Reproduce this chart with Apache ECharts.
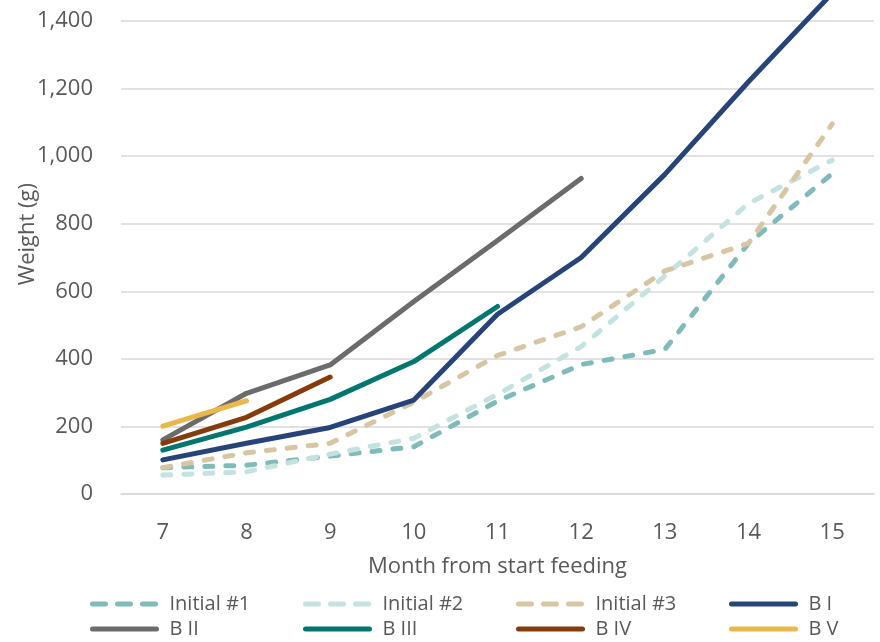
<!DOCTYPE html>
<html>
<head>
<meta charset="utf-8">
<script src="https://cdn.jsdelivr.net/npm/echarts@6/dist/echarts.min.js"></script>
<style>
  html, body { margin: 0; padding: 0; background: #fff; }
  #chart { width: 880px; height: 642px; }
</style>
</head>
<body>
<div id="chart"></div>
<script>
const months = ['7', '8', '9', '10', '11', '12', '13', '14', '15'];
const initial1 = [78, 85, 112, 140, 275, 383, 428, 742, 948];
const initial2 = [56, 66, 118, 165, 295, 436, 645, 860, 988];
const initial3 = [78, 122, 150, 272, 410, 495, 660, 742, 1095];
const bI = [101, 150, 197, 278, 532, 700, 946, 1220, 1482];
const bII = [160, 298, 382, 570, 750, 934];
const bIII = [130, 198, 280, 392, 555];
const bIV = [150, 227, 346];
const bV = [201, 276];
const yTicks = [0, 200, 400, 600, 800, 1000, 1200, 1400];

const seriesDefs = [
  { name: 'Initial #1', data: initial1, color: '#80bab9', dashed: true },
  { name: 'Initial #2', data: initial2, color: '#c4e2e0', dashed: true },
  { name: 'Initial #3', data: initial3, color: '#d7c6a3', dashed: true },
  { name: 'B I', data: bI, color: '#264478', dashed: false },
  { name: 'B II', data: bII, color: '#6b6b6b', dashed: false },
  { name: 'B III', data: bIII, color: '#00766f', dashed: false },
  { name: 'B IV', data: bIV, color: '#843c0c', dashed: false },
  { name: 'B V', data: bV, color: '#e9b84a', dashed: false }
];

const FONT = 'Open Sans';
const legendCols = [90, 303, 516, 729];
const legendRows = [594, 619];

const legends = seriesDefs.map((s, i) => ({
  data: [s.name],
  left: legendCols[i % 4],
  top: legendRows[Math.floor(i / 4)],
  padding: 0,
  itemWidth: 64,
  itemHeight: 20,
  itemStyle: { opacity: 0 },
  lineStyle: {
    width: 5,
    type: s.dashed ? [13, 12] : 'solid',
    cap: 'round'
  },
  textStyle: { fontFamily: FONT, fontSize: 20, color: '#595959', padding: [0, 0, 0, 8] }
}));

const chart = echarts.init(document.getElementById('chart'), null, { renderer: 'canvas' });
chart.setOption({
  animation: false,
  backgroundColor: '#fff',
  grid: { left: 121, right: 6, top: 0, bottom: 148, containLabel: false },
  legend: legends,
  graphic: [{
    type: 'text',
    left: 17,
    top: 183,
    rotation: Math.PI / 2,
    style: { text: 'Weight (g)', font: '22px "Open Sans"', fill: '#595959' }
  }],
  xAxis: {
    type: 'category',
    data: months,
    boundaryGap: true,
    axisLine: { show: true, lineStyle: { color: '#d9d9d9', width: 1.5 } },
    axisTick: { show: false },
    axisLabel: { fontFamily: FONT, fontSize: 22, color: '#595959', margin: 28 },
    name: 'Month from start feeding',
    nameLocation: 'middle',
    nameGap: 62,
    nameTextStyle: { fontFamily: FONT, fontSize: 22, color: '#595959' }
  },
  yAxis: {
    type: 'value',
    min: 0,
    max: 1462,
    interval: 200,
    axisLine: { show: false },
    axisTick: { show: false },
    splitLine: { showMaxLine: false, lineStyle: { color: '#d9d9d9', width: 1.5 } },
    axisLabel: {
      fontFamily: FONT, fontSize: 22, color: '#595959', margin: 28,
      showMaxLabel: false,
      formatter: v => (yTicks.indexOf(v) >= 0 ? v.toLocaleString('en-US') : '')
    }
  },
  series: seriesDefs.map(s => ({
    name: s.name,
    type: 'line',
    data: s.data,
    symbol: 'none',
    showSymbol: false,
    clip: true,
    color: s.color,
    lineStyle: {
      color: s.color,
      width: 5,
      type: s.dashed ? [8, 13] : 'solid',
      cap: 'round',
      join: 'round'
    }
  }))
});
</script>
</body>
</html>
